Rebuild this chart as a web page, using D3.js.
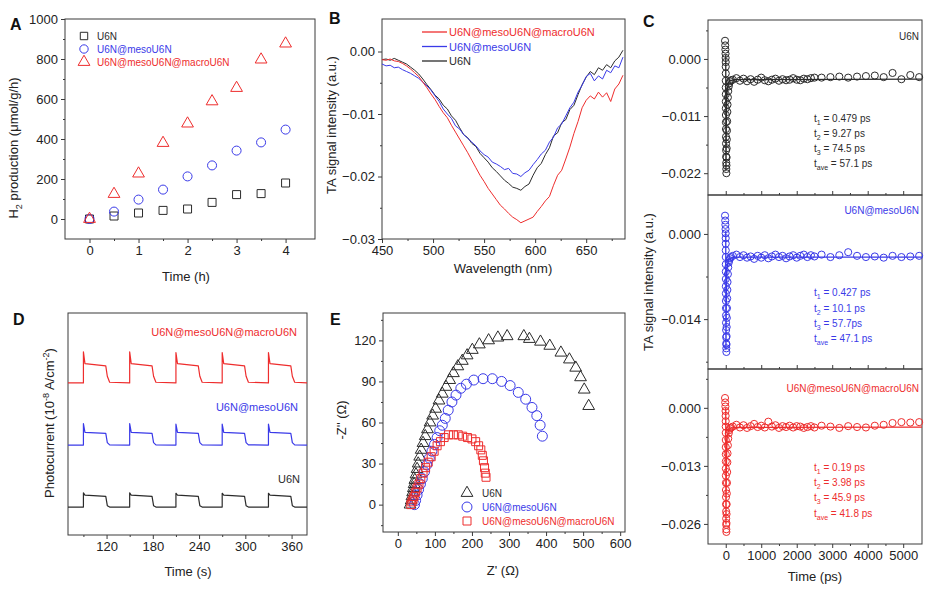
<!DOCTYPE html>
<html>
<head>
<meta charset="utf-8">
<script src="https://cdn.jsdelivr.net/npm/d3@7"></script>
<style>
body { margin: 0; background: #fff; }
svg { font-family: "Liberation Sans", Arial, sans-serif; background: #fff; }
.frame { fill: none; stroke: #3a3a3a; stroke-width: 1; }
.axis path { display: none; }
.axis line { stroke: #3a3a3a; }
.axis text { font-size: 13px; fill: #222; font-family: "Liberation Sans", Arial, sans-serif; }
.mark { fill: none; stroke-width: 1; }
</style>
</head>
<body>
<svg id="fig" width="931" height="590"></svg>
<script>
var BLACK = "#2b2b2b", BLUE = "#3a3ae8", RED = "#ee2d2d";
var names = ["U6N", "U6N@mesoU6N", "U6N@mesoU6N@macroU6N"];

// A: H2 production
var timeH = [0, 0.5, 1, 1.5, 2, 2.5, 3, 3.5, 4];
var h2U6N = [0, 15, 30, 43, 50, 83, 122, 127, 180];
var h2Meso = [0, 37, 97, 147, 213, 268, 342, 383, 447];
var h2Macro = [0, 125, 227, 380, 477, 588, 655, 797, 877];

// B: TA spectra
var wl = [450,454,458,462,466,470,474,478,482,486,490,494,498,502,506,510,514,518,522,526,530,534,538,542,546,550,554,558,562,566,570,574,578,582,586,590,594,598,602,606,610,614,618,622,626,630,634,638,642,646,650,654,658,662,666,670,674,678,682,686];
var taU6N = [-1.3,-1.2,-1.4,-1.1,-1.4,-1.7,-2.0,-2.5,-3.0,-3.6,-4.4,-5.3,-6.1,-7.0,-7.6,-8.6,-9.2,-10.3,-11.0,-12.2,-13.3,-13.8,-14.7,-15.2,-16.3,-17.0,-17.7,-18.6,-19.2,-19.9,-20.6,-21.1,-21.7,-21.9,-22.2,-21.6,-21.2,-19.8,-18.6,-17.9,-16.5,-15.4,-13.5,-13.0,-11.4,-10.9,-9.3,-8.6,-6.9,-5.3,-4.1,-3.2,-3.7,-2.6,-3.0,-2.1,-2.6,-1.5,-0.9,0.2];
var taMeso = [-2.0,-2.3,-2.2,-2.6,-2.5,-2.9,-3.2,-3.5,-3.9,-4.3,-4.9,-5.5,-6.2,-7.1,-8.0,-9.2,-10.0,-10.7,-11.9,-12.4,-13.3,-13.9,-14.5,-15.1,-15.9,-16.5,-16.9,-17.7,-18.0,-18.4,-18.9,-18.7,-19.5,-19.6,-20.0,-19.4,-19.0,-18.1,-17.3,-16.4,-15.8,-14.5,-13.7,-12.2,-11.6,-10.3,-9.0,-8.1,-6.5,-5.4,-4.0,-3.5,-4.7,-3.9,-4.4,-3.0,-3.4,-2.3,-2.6,-0.9];
var taMacro = [-1.3,-1.4,-1.2,-1.5,-1.6,-1.9,-2.3,-2.8,-3.4,-4.0,-4.9,-5.8,-6.8,-7.7,-8.8,-9.8,-10.6,-11.8,-12.9,-14.0,-15.1,-16.2,-17.4,-18.6,-19.8,-20.8,-21.9,-22.8,-23.7,-24.6,-25.2,-25.9,-26.5,-26.9,-27.4,-27.1,-26.8,-26.5,-25.6,-24.8,-23.9,-23.2,-21.4,-19.8,-19.0,-17.2,-15.3,-13.1,-11.2,-9.0,-7.8,-7.1,-7.6,-6.5,-7.3,-6.6,-8.0,-6.0,-5.2,-3.8];

// C: TA kinetics
var cTime = [-20,-15,-10,-6,-3,-1,0,0.5,1,1.5,2,2.5,3,4,5,6,7,8,10,12,14,16,18,20,23,26,30,35,40,45,50,60,70,85,100,120,150,
  200,300,400,500,600,700,800,900,1000,1100,1200,1300,1400,1500,1600,1700,1800,1900,2000,2100,2200,2300,2400,2500,
  2700,2950,3200,3450,3700,3950,4200,4450,4700,4950,5200,5450];
var kinU6N = [0.0035,0.0026,0.0018,0.0010,0.0002,-0.0006,-0.0015,-0.0028,-0.0042,-0.0055,-0.0068,-0.0082,-0.0095,-0.0108,-0.0122,-0.0135,-0.0150,-0.0163,-0.0176,-0.0188,-0.0200,-0.0212,-0.0220,-0.0205,-0.0190,-0.0172,-0.0155,-0.0138,-0.0120,-0.0102,-0.0088,-0.0074,-0.0062,-0.0053,-0.0047,-0.0043,-0.0041,
  -0.0040,-0.0037,-0.0042,-0.0038,-0.0043,-0.0039,-0.0044,-0.0040,-0.0036,-0.0041,-0.0043,-0.0040,-0.0038,-0.0042,-0.0039,-0.0041,-0.0040,-0.0037,-0.0040,-0.0041,-0.0038,-0.0039,-0.0037,-0.0036,
  -0.0036,-0.0035,-0.0034,-0.0036,-0.0034,-0.0033,-0.0032,-0.0035,-0.0027,-0.0039,-0.0031,-0.0035];
var kinMeso = [0.0030,0.0022,0.0015,0.0008,0.0001,-0.0007,-0.0016,-0.0027,-0.0038,-0.0050,-0.0062,-0.0074,-0.0086,-0.0098,-0.0110,-0.0122,-0.0134,-0.0146,-0.0158,-0.0170,-0.0180,-0.0188,-0.0194,-0.0182,-0.0168,-0.0153,-0.0138,-0.0122,-0.0106,-0.0092,-0.0079,-0.0066,-0.0055,-0.0047,-0.0043,-0.0040,-0.0038,
  -0.0036,-0.0034,-0.0038,-0.0035,-0.0039,-0.0037,-0.0041,-0.0036,-0.0039,-0.0035,-0.0040,-0.0037,-0.0034,-0.0038,-0.0036,-0.0040,-0.0037,-0.0035,-0.0039,-0.0036,-0.0034,-0.0038,-0.0035,-0.0037,
  -0.0034,-0.0038,-0.0035,-0.0030,-0.0036,-0.0038,-0.0037,-0.0039,-0.0036,-0.0038,-0.0037,-0.0036];
var kinMacro = [0.0022,0.0012,0.0003,-0.0007,-0.0018,-0.0030,-0.0042,-0.0056,-0.0072,-0.0088,-0.0104,-0.0120,-0.0136,-0.0152,-0.0168,-0.0184,-0.0200,-0.0216,-0.0232,-0.0248,-0.0262,-0.0272,-0.0278,-0.0258,-0.0238,-0.0216,-0.0192,-0.0168,-0.0144,-0.0122,-0.0102,-0.0084,-0.0069,-0.0057,-0.0050,-0.0046,-0.0044,
  -0.0042,-0.0038,-0.0044,-0.0039,-0.0045,-0.0041,-0.0036,-0.0043,-0.0040,-0.0044,-0.0031,-0.0042,-0.0039,-0.0045,-0.0041,-0.0043,-0.0040,-0.0044,-0.0041,-0.0042,-0.0045,-0.0043,-0.0041,-0.0044,
  -0.0040,-0.0042,-0.0045,-0.0041,-0.0043,-0.0044,-0.0040,-0.0038,-0.0034,-0.0032,-0.0033,-0.0032];
var fitTime = [0, 1, 3, 6, 10, 15, 25, 40, 70, 120, 250, 5530];
var fitU6N = [0.0008, -0.006, -0.015, -0.0215, -0.019, -0.014, -0.009, -0.006, -0.0047, -0.0042, -0.0040, -0.0039];
var fitMeso = [0.0005, -0.005, -0.013, -0.019, -0.016, -0.012, -0.008, -0.0055, -0.0044, -0.0040, -0.0038, -0.0038];
var fitMacro = [0.0000, -0.008, -0.018, -0.026, -0.022, -0.016, -0.010, -0.0068, -0.0052, -0.0046, -0.0044, -0.0043];
var tau1 = ["0.479 ps", "0.427 ps", "0.19 ps"];
var tau2 = ["9.27 ps", "10.1 ps", "3.98 ps"];
var tau3 = ["74.5 ps", "57.7ps", "45.9 ps"];
var tauAve = ["57.1 ps", "47.1 ps", "41.8 ps"];

// D: photocurrent
var dTime = [70, 90,90,92,119,121,124, 150,150,152,179,181,184, 210,210,212,239,241,244, 270,270,272,299,301,304, 330,330,332,359,361,364, 380];
var pcU6N = [0.26, 0.26,0.90,0.80,0.74,0.32,0.26, 0.26,0.90,0.80,0.74,0.32,0.26, 0.26,0.88,0.80,0.74,0.32,0.26, 0.26,0.88,0.80,0.74,0.32,0.26, 0.26,0.88,0.80,0.74,0.32,0.26, 0.26];
var pcMeso = [3.05, 3.05,4.02,3.62,3.58,3.16,3.06, 3.05,4.02,3.62,3.58,3.16,3.06, 3.05,4.0,3.62,3.58,3.16,3.06, 3.05,4.0,3.62,3.58,3.16,3.06, 3.05,4.0,3.62,3.58,3.16,3.06, 3.05];
var pcMacro = [5.85, 5.85,7.25,6.72,6.62,6.15,5.88, 5.85,7.25,6.72,6.62,6.15,5.88, 5.85,7.22,6.72,6.62,6.15,5.88, 5.85,7.22,6.72,6.62,6.15,5.88, 5.85,7.22,6.72,6.62,6.15,5.88, 5.85];

// E: Nyquist
var zReU6N = [33,36,38,40,42,44,46,49,52,55,59,63,68,74,80,87,94,102,111,120,130,140,150,162,174,187,201,220,245,270,295,340,355,385,410,440,463,480,493,503,515];
var zImU6N = [0,3,6,9,12,15,18,22,26,30,35,40,45,50,55,60,65,70,76,81,86,91,96,101,105,109,113,117,120,122,123,123,121,119,116,111,106,100,93,84,72];
var zReMeso = [45,48,52,56,61,66,72,78,85,92,99,106,113,120,128,136,146,157,170,185,205,230,255,280,303,325,345,362,375,384,390];
var zImMeso = [0,3,7,11,15,19,24,29,34,39,44,49,54,58,63,69,75,80,85,88,91,92,92,90,87,82,77,71,65,58,50];
var zReMacro = [35,38,41,44,48,52,57,62,68,75,82,90,98,106,115,125,137,150,163,175,188,200,210,218,224,228,231,234,236,238];
var zImMacro = [0,2,4,6,9,12,15,19,23,27,31,35,39,43,46,49,51,51,51,50,49,48,46,43,40,36,32,27,23,20];

var svg = d3.select("#fig");

function frame(box) {
    svg.append("rect").attr("class", "frame")
        .attr("x", box.x0).attr("y", box.y0)
        .attr("width", box.x1 - box.x0).attr("height", box.y1 - box.y0);
}

function axis(orient, pos, scale, major, minor, fmt, size) {
    var make = orient == "bottom" ? d3.axisBottom : d3.axisLeft;
    var tr = orient == "bottom" ? "translate(0," + pos + ")" : "translate(" + pos + ",0)";
    var s = size == null ? 4 : size;
    if (major) {
        svg.append("g").attr("class", "axis").attr("transform", tr)
            .call(make(scale).tickValues(major).tickSize(s).tickPadding(3).tickFormat(fmt));
    }
    if (minor) {
        svg.append("g").attr("class", "axis").attr("transform", tr)
            .call(make(scale).tickValues(minor).tickSize(s / 2).tickFormat(""));
    }
}

// text with sub/superscripts: parts are strings or {t, sub} / {t, sup}
function label(x, y, parts, size, color, anchor, rotate, weight) {
    var t = svg.append("text").attr("font-size", size).attr("fill", color || "#222")
        .attr("text-anchor", anchor || "start");
    if (weight) t.attr("font-weight", weight);
    if (rotate) t.attr("transform", "translate(" + x + "," + y + ") rotate(-90)");
    else t.attr("x", x).attr("y", y);
    var cur = 0;
    parts.forEach(function(p) {
        var txt = p, off = 0, small = false;
        if (typeof p != "string") {
            txt = p.t; small = true;
            off = p.sub ? size * 0.3 : -size * 0.42;
        }
        var span = t.append("tspan").text(txt).attr("dy", off - cur);
        if (small) span.attr("font-size", size * 0.7);
        cur = off;
    });
    return t;
}

function symbolPath(type, size) {
    return d3.symbol().type(type).size(size)();
}

function scatter(x, y, xs, ys, type, size, color) {
    var pts = xs.map(function(v, i) { return [v, ys[i]]; });
    svg.append("g").selectAll("path")
        .data(pts).enter().append("path")
        .attr("class", "mark")
        .attr("d", symbolPath(type, size))
        .attr("transform", function(d) { return "translate(" + x(d[0]) + "," + y(d[1]) + ")"; })
        .attr("stroke", color);
}

function line(x, y, xs, ys, color, width) {
    var pts = xs.map(function(v, i) { return [v, ys[i]]; });
    svg.append("path").datum(pts)
        .attr("fill", "none").attr("stroke", color).attr("stroke-width", width || 1)
        .attr("stroke-linejoin", "round")
        .attr("d", d3.line().x(function(d) { return x(d[0]); }).y(function(d) { return y(d[1]); }));
}

// ---------- A ----------
function panelA() {
    var box = {x0: 65, x1: 315, y0: 19, y1: 239};
    var x = d3.scaleLinear().domain([-0.5, 4.6]).range([box.x0, box.x1]);
    var y = d3.scaleLinear().domain([-100, 1000]).range([box.y1, box.y0]);
    frame(box);
    axis("bottom", box.y1, x, [0, 1, 2, 3, 4], [0.5, 1.5, 2.5, 3.5], d3.format("d"));
    axis("left", box.x0, y, [0, 200, 400, 600, 800, 1000], [100, 300, 500, 700, 900], d3.format("d"));
    scatter(x, y, timeH, h2U6N, d3.symbolSquare, 64, BLACK);
    scatter(x, y, timeH, h2Meso, d3.symbolCircle, 64, BLUE);
    scatter(x, y, timeH, h2Macro, d3.symbolTriangle, 60, RED);

    var legY = [36, 49, 62], types = [d3.symbolSquare, d3.symbolCircle, d3.symbolTriangle];
    var cols = [BLACK, BLUE, RED];
    legY.forEach(function(ly, i) {
        svg.append("path").attr("class", "mark").attr("stroke", cols[i])
            .attr("d", symbolPath(types[i], i == 2 ? 60 : 55))
            .attr("transform", "translate(84," + ly + ")");
        label(97, ly + 3.5, [names[i]], 10, cols[i]);
    });
    label(10, 30, ["A"], 16, "#111", "start", false, "bold");
    label(186, 281, ["Time (h)"], 13, "#222", "middle");
    label(18, 148, ["H", {t: "2", sub: true}, " production (\u03bcmol/g/h)"], 13, "#222", "middle", true);
}

// ---------- B ----------
function panelB() {
    var box = {x0: 382, x1: 625, y0: 19, y1: 239};
    var x = d3.scaleLinear().domain([450, 688]).range([box.x0, box.x1]);
    var y = d3.scaleLinear().domain([-0.03, 0.0052]).range([box.y1, box.y0]);
    frame(box);
    axis("bottom", box.y1, x, [450, 500, 550, 600, 650], [475, 525, 575, 625, 675], d3.format("d"));
    axis("left", box.x0, y, [0, -0.01, -0.02, -0.03], [-0.005, -0.015, -0.025], d3.format(".2f"));
    var k = function(a) { return a.map(function(v) { return v / 1000; }); };
    line(x, y, wl, k(taU6N), BLACK, 1);
    line(x, y, wl, k(taMeso), BLUE, 1);
    line(x, y, wl, k(taMacro), RED, 1);

    var legY = [32, 46.5, 61], cols = [RED, BLUE, BLACK], txt = [names[2], names[1], names[0]];
    legY.forEach(function(ly, i) {
        svg.append("line").attr("x1", 422).attr("x2", 447).attr("y1", ly).attr("y2", ly)
            .attr("stroke", cols[i]).attr("stroke-width", 1.3);
        label(449, ly + 4, [txt[i]], 11, cols[i]);
    });
    label(329, 24, ["B"], 16, "#111", "start", false, "bold");
    label(503, 273, ["Wavelength (nm)"], 13, "#222", "middle");
    label(336, 125, ["TA signal intensity (a.u.)"], 13, "#222", "middle", true);
}

// ---------- C ----------
function panelC() {
    var x = d3.scaleLinear().domain([-500, 5530]).range([708, 922]);
    var subs = [
        {y0: 20, y1: 195, dom: [-0.0262, 0.0075], ticks: [0, -0.011, -0.022], minor: [0.0055, -0.0055, -0.0165],
         vals: kinU6N, fit: fitU6N, color: BLACK, tag: 40, ann: [118, 133, 148, 163]},
        {y0: 195, y1: 369, dom: [-0.0222, 0.0064], ticks: [0, -0.014], minor: [-0.007, -0.021],
         vals: kinMeso, fit: fitMeso, color: BLUE, tag: 214, ann: [292, 308, 323, 338]},
        {y0: 369, y1: 544, dom: [-0.0305, 0.0087], ticks: [0, -0.013, -0.026], minor: [0.0065, -0.0065, -0.0195],
         vals: kinMacro, fit: fitMacro, color: RED, tag: 392, ann: [467, 482, 497, 513]}
    ];
    subs.forEach(function(s, i) {
        var box = {x0: 708, x1: 922, y0: s.y0, y1: s.y1};
        var y = d3.scaleLinear().domain(s.dom).range([s.y1, s.y0]);
        frame(box);
        axis("left", box.x0, y, s.ticks, s.minor, d3.format(".3f"));
        if (i == 2) axis("bottom", box.y1, x, [0, 1000, 2000, 3000, 4000, 5000], [500, 1500, 2500, 3500, 4500], d3.format("d"));
        else axis("bottom", box.y1, x, [0, 1000, 2000, 3000, 4000, 5000], [500, 1500, 2500, 3500, 4500], "", -4);
        scatter(x, y, cTime, s.vals, d3.symbolCircle, 40, s.color);
        line(x, y, fitTime, s.fit, s.color, 1.3);
        label(919, s.tag, [names[i]], 10, s.color, "end");
        label(814, s.ann[0] + 4, ["t", {t: "1", sub: true}, " = " + tau1[i]], 10, s.color);
        label(814, s.ann[1] + 4, ["t", {t: "2", sub: true}, " = " + tau2[i]], 10, s.color);
        label(814, s.ann[2] + 4, ["t", {t: "3", sub: true}, " = " + tau3[i]], 10, s.color);
        label(814, s.ann[3] + 4, ["t", {t: "ave", sub: true}, " = " + tauAve[i]], 10, s.color);
    });
    label(643, 27, ["C"], 16, "#111", "start", false, "bold");
    label(815, 581, ["Time (ps)"], 13, "#222", "middle");
    label(653, 282, ["TA signal intensity (a.u.)"], 13, "#222", "middle", true);
}

// ---------- D ----------
function panelD() {
    var box = {x0: 68, x1: 307, y0: 313, y1: 535};
    var x = d3.scaleLinear().domain([70, 380]).range([box.x0, box.x1]);
    var y = d3.scaleLinear().domain([-1, 9]).range([box.y1, box.y0]);
    frame(box);
    axis("bottom", box.y1, x, [120, 180, 240, 300, 360], [90, 150, 210, 270, 330], d3.format("d"));
    line(x, y, dTime, pcU6N, BLACK, 1.2);
    line(x, y, dTime, pcMeso, BLUE, 1.2);
    line(x, y, dTime, pcMacro, RED, 1.2);
    label(297, 336, [names[2]], 11, RED, "end");
    label(298, 411, [names[1]], 11, BLUE, "end");
    label(300, 483, [names[0]], 11, BLACK, "end");
    label(13, 325, ["D"], 16, "#111", "start", false, "bold");
    label(188, 576, ["Time (s)"], 13, "#222", "middle");
    label(54, 423, ["Photocurrent (10", {t: "-8", sup: true}, " A/cm", {t: "-2", sup: true}, ")"], 13, "#222", "middle", true);
}

// ---------- E ----------
function panelE() {
    var box = {x0: 383, x1: 625, y0: 313, y1: 532};
    var x = d3.scaleLinear().domain([-40, 613]).range([box.x0, box.x1]);
    var y = d3.scaleLinear().domain([-20, 140]).range([box.y1, box.y0]);
    frame(box);
    axis("bottom", box.y1, x, [0, 100, 200, 300, 400, 500, 600], [50, 150, 250, 350, 450, 550], d3.format("d"));
    axis("left", box.x0, y, [0, 30, 60, 90, 120], [-15, 15, 45, 75, 105, 135], d3.format("d"));
    scatter(x, y, zReU6N, zImU6N, d3.symbolTriangle, 60, BLACK);
    scatter(x, y, zReMeso, zImMeso, d3.symbolCircle, 78, BLUE);
    scatter(x, y, zReMacro, zImMacro, d3.symbolSquare, 64, RED);

    var legY = [493, 507, 521], types = [d3.symbolTriangle, d3.symbolCircle, d3.symbolSquare];
    var sizes = [60, 78, 64], cols = [BLACK, BLUE, RED];
    legY.forEach(function(ly, i) {
        svg.append("path").attr("class", "mark").attr("stroke", cols[i])
            .attr("d", symbolPath(types[i], sizes[i]))
            .attr("transform", "translate(467," + ly + ")");
        label(482, ly + 3.5, [names[i]], 10, cols[i]);
    });
    label(330, 325, ["E"], 16, "#111", "start", false, "bold");
    label(503, 575, ["Z' (\u03a9)"], 13, "#222", "middle");
    label(346, 420, ["-Z'' (\u03a9)"], 13, "#222", "middle", true);
}

panelA();
panelB();
panelC();
panelD();
panelE();
</script>
</body>
</html>
